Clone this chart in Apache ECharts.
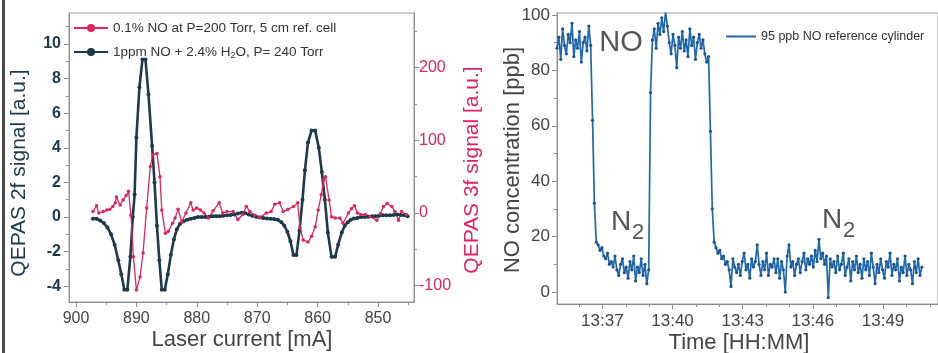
<!DOCTYPE html>
<html><head><meta charset="utf-8">
<script src="https://cdn.jsdelivr.net/npm/echarts@6/dist/echarts.min.js"></script>
<style>html,body{margin:0;padding:0;background:#fff}#c{width:938px;height:353px}</style>
</head><body><div id="c"></div>
<script>
// ---------- Left panel: QEPAS 2f / 3f spectra ----------
const current2f = [897.2,896.6,896.0,895.4,894.8,894.2,893.6,893.0,892.5,892.0,891.5,891.0,890.6,890.3,890.0,889.5,889.0,888.5,888.0,887.4,887.0,886.6,886.2,885.8,885.3,884.8,884.3,883.8,883.3,882.8,882.2,881.6,881.0,880.4,879.8,879.2,878.6,878.0,877.4,876.8,876.2,875.6,875.0,874.4,873.8,873.2,872.6,872.0,871.4,870.8,870.2,869.6,869.0,868.4,867.8,867.2,866.6,866.0,865.5,865.0,864.5,864.0,863.5,863.0,862.5,862.1,861.6,861.0,860.4,859.8,859.3,858.8,858.3,857.7,857.1,856.6,856.0,855.5,855.0,854.5,854.0,853.4,852.8,852.2,851.6,851.0,850.4,849.8,849.2,848.6,848.0,847.4,846.8,846.2,845.6,845.1];
const signal2f = [-0.1,-0.1,-0.2,-0.35,-0.6,-1.0,-1.6,-2.5,-3.3,-4.2,-4.2,-2.3,0.0,1.3,4.6,7.5,9.1,9.1,7.1,4.1,2.0,-0.5,-2.5,-4.2,-4.2,-3.3,-2.2,-1.3,-0.7,-0.4,-0.25,-0.15,-0.1,-0.05,0.0,0.0,0.0,0.02,0.05,0.05,0.05,0.08,0.1,0.12,0.15,0.2,0.25,0.22,0.15,0.08,0.02,-0.02,-0.05,-0.08,-0.1,-0.12,-0.15,-0.3,-0.5,-0.85,-1.4,-2.2,-2.2,-0.8,1.0,2.7,4.3,5.0,5.0,4.0,2.6,1.0,-0.9,-2.3,-2.3,-1.6,-0.9,-0.5,-0.3,-0.15,-0.08,-0.05,0.0,0.0,0.02,0.05,0.05,0.08,0.1,0.1,0.1,0.12,0.15,0.12,0.1,0.05];
const current3f = [897.2,896.6,896.2,895.5,894.9,894.4,893.9,893.5,893.3,892.7,892.2,891.7,891.3,890.9,890.5,890.0,889.4,888.9,888.3,887.7,887.3,886.6,886.1,885.8,885.2,884.7,884.0,883.6,883.1,882.5,881.8,881.0,880.6,880.0,879.4,878.8,878.1,877.3,876.3,875.7,875.0,874.0,873.2,872.4,871.8,871.2,870.4,869.6,868.5,867.7,867.1,866.3,865.7,864.9,864.0,863.3,862.9,862.4,861.6,861.0,860.4,859.9,859.4,859.0,858.7,858.1,857.7,857.1,856.3,855.8,854.9,854.4,853.9,853.4,852.9,852.1,851.3,850.2,849.6,849.1,848.5,847.7,847.2,846.6,846.1,845.3];
const signal3f = [2,10,0,2,4,5,9,14,22,11,18,24,30,-3,-60,-106,-88,-55,7,64,80,82,50,4,-28,-25,-14,-7,5,-12,0,14,4,7,4,0,-7,3,14,0,2,2,-9,-2,9,2,-3,-6,0,2,12,14,2,5,9,14,-21,-37,-40,-32,-19,4,25,45,50,18,-5,-7,-7,-14,0,6,10,0,-2,-2,-5,-10,-1,9,13,9,2,-10,2,-2];
const currentTicks = [850,860,870,880,890,900];
const currentMinor = [845,855,865,875,885,895];
const ticks2f = [-4,-2,0,2,4,6,8,10];
const minor2f = [-3,-1,1,3,5,7,9,11];
const ticks3f = [-100,0,100,200];
const minor3f = [-50,50,150,250];
const name3f = '0.1% NO at P=200 Torr, 5 cm ref. cell';
const name2f = '1ppm NO + 2.4% H2O, P= 240 Torr';

// ---------- Right panel: NO concentration time trace ----------
const timeStart = 35.06;   // minutes after 13:00
const sampleStep = 0.08;   // minutes between samples
const noValues = [
 88,92,84,95,89,86,93,90,97,85,91,88,94,83,90,92,87,96,89,
 62,32,18,
 17,15,16,13,12,14,10,11,9,13,8,6,10,12,7,9,5,11,8,13,4,9,7,12,6,10,3,8,
 72,
 91,95,88,97,93,99,94,101,96,
 90,86,93,89,81,92,88,94,87,91,85,95,89,92,84,90,93,88,91,86,83,85,
 58,30,18,
 16,14,15,12,13,10,11,8,2,12,
 9,7,10,6,11,14,8,10,5,12,
 9,11,17,10,6,11,8,14,6,10,
 9,12,7,12,5,11,8,0,13,17,
 9,11,6,10,12,7,11,14,8,12,
 10,13,9,15,11,19,12,14,10,13,
 -2,12,9,11,7,13,8,10,14,6,
 9,12,4,11,8,13,7,10,5,12,
 8,11,6,14,9,3,10,7,12,8,
 5,11,9,14,6,10,8,12,4,9,
 7,13,6,10,8,3,11,7,12,6,9
];
const timeTicks = [37,40,43,46,49];
const timeMinor = [36,38,39,41,42,44,45,47,48,50,51];
const concTicks = [0,20,40,60,80,100];
const concMinor = [10,30,50,70,90];
const nameNO = '95 ppb NO reference cylinder';

const FF = '"Liberation Sans", Arial, sans-serif';
const C2F = '#1d3a4a', C3F = '#e0245e', CNO = '#2068ad', AX = '#8a8f8a';

const data2f = current2f.map((x,i)=>[x, signal2f[i]]);
const data3f = current3f.map((x,i)=>[x, signal3f[i]]);
const dataNO = noValues.map((v,i)=>[timeStart + i*sampleStep, v]);

function majorAxis(o){
  return Object.assign({
    type:'value', splitLine:{show:false},
    axisLine:{show:true, onZero:false, lineStyle:{color:AX, width:1}},
  }, o);
}
function minorAxis(o, vals){
  return Object.assign({
    type:'value', splitLine:{show:false},
    axisLine:{show:false, onZero:false}, axisLabel:{show:false},
    axisTick:{show:true, length:3, customValues:vals, lineStyle:{color:AX}}
  }, o);
}
const pad = v => (v<10?'0':'')+v;

const chart = echarts.init(document.getElementById('c'), null, {renderer:'canvas'});
chart.setOption({
  animation:false,
  backgroundColor:'#fff',
  textStyle:{fontFamily:FF},
  grid:[
    {left:69, top:13, width:345, height:289, show:true, borderColor:'#a0a0a0', borderWidth:1},
    {left:557, top:13, width:386, height:291, show:true, borderColor:'#a0a0a0', borderWidth:1}
  ],
  xAxis:[
    majorAxis({gridIndex:0, inverse:true, min:844.04, max:901.16, position:'bottom',
      axisTick:{show:true, length:5, customValues:currentTicks, lineStyle:{color:AX}},
      axisLabel:{customValues:currentTicks, fontSize:16, color:'#444', margin:9, fontFamily:FF}}),
    minorAxis({gridIndex:0, inverse:true, min:844.04, max:901.16, position:'bottom'}, currentMinor),
    majorAxis({gridIndex:1, min:35.06, max:51.35, position:'bottom',
      axisTick:{show:true, length:5, customValues:timeTicks, lineStyle:{color:AX}},
      axisLabel:{customValues:timeTicks, fontSize:17, color:'#444', margin:9, fontFamily:FF,
        formatter:v=>'13:'+pad(Math.round(v))}}),
    minorAxis({gridIndex:1, min:35.06, max:51.35, position:'bottom'}, timeMinor)
  ],
  yAxis:[
    majorAxis({gridIndex:0, min:-4.91, max:11.79, position:'left',
      axisTick:{show:true, length:5, customValues:ticks2f, lineStyle:{color:AX}},
      axisLabel:{customValues:ticks2f, fontSize:16, fontWeight:'bold', color:C2F, margin:8, fontFamily:FF}}),
    minorAxis({gridIndex:0, min:-4.91, max:11.79, position:'left'}, minor2f),
    majorAxis({gridIndex:0, min:-122.4, max:275.1, position:'right',
      axisTick:{show:true, length:5, customValues:ticks3f, lineStyle:{color:AX}},
      axisLabel:{customValues:ticks3f, fontSize:16, color:C3F, margin:5, fontFamily:FF}}),
    minorAxis({gridIndex:0, min:-122.4, max:275.1, position:'right'}, minor3f),
    majorAxis({gridIndex:1, min:-4.33, max:100.72, position:'left',
      axisTick:{show:true, length:5, customValues:concTicks, lineStyle:{color:AX}},
      axisLabel:{customValues:concTicks, fontSize:17, color:'#444', margin:7, fontFamily:FF}}),
    minorAxis({gridIndex:1, min:-4.33, max:100.72, position:'left'}, concMinor)
  ],
  legend:[
    {data:[name3f, name2f], orient:'vertical', left:68, top:16, itemWidth:34, itemHeight:10, itemGap:10,
     textStyle:{fontSize:13.5, color:'#333', fontFamily:FF,
       rich:{n:{fontSize:13.5, color:'#333', fontFamily:FF}, s:{fontSize:9, color:'#333', fontFamily:FF, padding:[8,0,0,0]}}},
     formatter:function(n){ if(n===name2f){return '{n|1ppm NO + 2.4% H}{s|2}{n|O, P= 240 Torr}';} return '{n|'+n+'}'; }},
    {data:[{name:nameNO, icon:'rect', itemStyle:{color:CNO}}], left:721, top:25, itemWidth:30, itemHeight:2, textStyle:{fontSize:12.5, color:'#333', fontFamily:FF}}
  ],
  series:[
    {name:name2f, type:'line', xAxisIndex:0, yAxisIndex:0, data:data2f, color:C2F,
     lineStyle:{width:2.6, color:C2F}, symbol:'circle', symbolSize:4, itemStyle:{color:C2F}},
    {name:name3f, type:'line', xAxisIndex:0, yAxisIndex:2, data:data3f, color:C3F,
     lineStyle:{width:1.3, color:C3F}, symbol:'circle', symbolSize:3.5, itemStyle:{color:C3F}},
    {name:nameNO, type:'line', xAxisIndex:2, yAxisIndex:4, data:dataNO, color:CNO,
     lineStyle:{width:1.7, color:CNO}, symbol:'circle', symbolSize:3.2, itemStyle:{color:'#1a5590'}}
  ],
  graphic:[
    {type:'rect', shape:{x:2, y:0, width:3, height:353}, style:{fill:'#4a4a4a'}},
    {type:'text', x:19, y:173, rotation:Math.PI/2, style:{text:'QEPAS 2f signal [a.u.]', fill:C2F, fontSize:21, fontFamily:FF, align:'center', verticalAlign:'middle'}},
    {type:'text', x:472, y:170, rotation:Math.PI/2, style:{text:'QEPAS 3f signal [a.u.]', fill:C3F, fontSize:21, fontFamily:FF, align:'center', verticalAlign:'middle'}},
    {type:'text', x:242, y:340, style:{text:'Laser current [mA]', fill:'#444', fontSize:22, fontFamily:FF, align:'center', verticalAlign:'middle'}},
    {type:'text', x:513, y:160, rotation:Math.PI/2, style:{text:'NO concentration [ppb]', fill:'#444', fontSize:22, fontFamily:FF, align:'center', verticalAlign:'middle'}},
    {type:'text', x:739, y:343, style:{text:'Time [HH:MM]', fill:'#444', fontSize:22, fontFamily:FF, align:'center', verticalAlign:'middle'}},
    {type:'text', x:621, y:43, style:{text:'NO', fill:'#555', fontSize:29, fontFamily:FF, align:'center', verticalAlign:'middle'}},
    {type:'text', x:621, y:222, style:{text:'N', fill:'#555', fontSize:28, fontFamily:FF, align:'center', verticalAlign:'middle'}},
    {type:'text', x:638, y:233, style:{text:'2', fill:'#555', fontSize:22, fontFamily:FF, align:'center', verticalAlign:'middle'}},
    {type:'text', x:832, y:220, style:{text:'N', fill:'#555', fontSize:28, fontFamily:FF, align:'center', verticalAlign:'middle'}},
    {type:'text', x:849, y:231, style:{text:'2', fill:'#555', fontSize:22, fontFamily:FF, align:'center', verticalAlign:'middle'}}
  ]
});
</script></body></html>
